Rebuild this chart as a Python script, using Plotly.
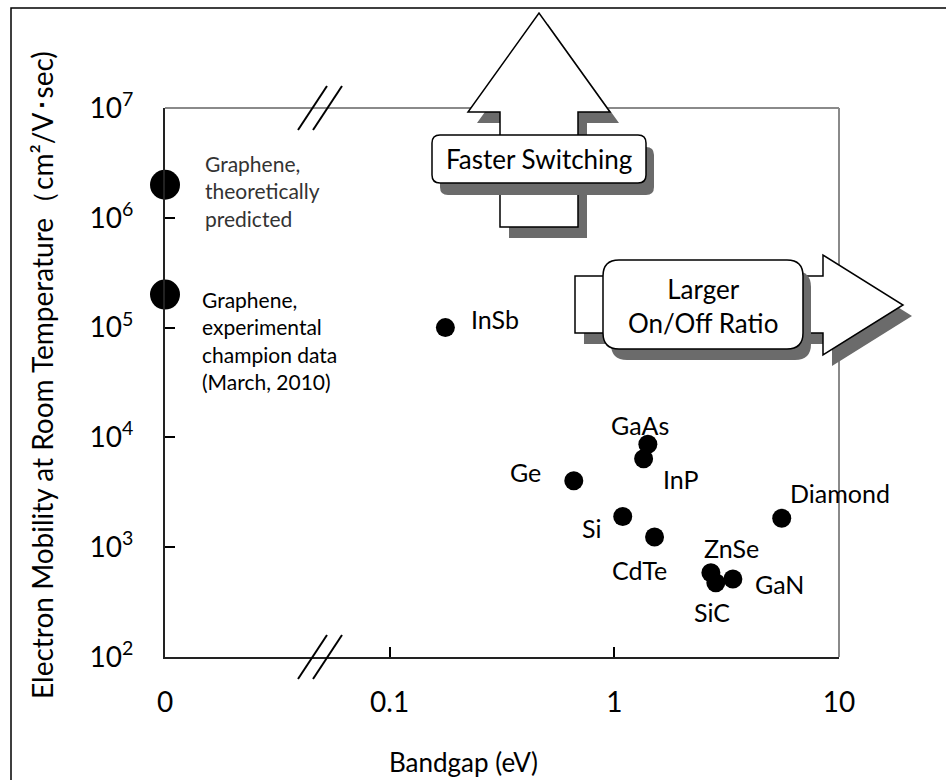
import math
import plotly.graph_objects as go

# ---------------- data ----------------
materials = ["InSb", "GaAs", "InP", "Ge", "Si", "CdTe", "ZnSe", "SiC", "GaN", "Diamond"]
bandgap_ev = [0.177, 1.41, 1.35, 0.66, 1.09, 1.51, 2.69, 2.83, 3.37, 5.56]
mobility = [1.0e5, 8650, 6400, 4030, 1900, 1240, 586, 475, 513, 1834]

graphene_labels = [
    "Graphene,<br>theoretically<br>predicted",
    "Graphene,<br>experimental<br>champion data<br>(March, 2010)",
]
graphene_bandgap = [0, 0]
graphene_mobility = [2.0e6, 2.0e5]

x_tick_values = [0, 0.1, 1, 10]
x_tick_text = ["0", "0.1", "1", "10"]
y_tick_values = [1e2, 1e3, 1e4, 1e5, 1e6, 1e7]
y_tick_text = ["10<sup>2</sup>", "10<sup>3</sup>", "10<sup>4</sup>",
               "10<sup>5</sup>", "10<sup>6</sup>", "10<sup>7</sup>"]

x_title = "Bandgap (eV)"
y_title = "Electron Mobility at Room Temperature（cm²/V･sec)"
up_arrow_text = "Faster Switching"
right_arrow_text = "Larger<br>On/Off Ratio"

# ---------------- layout geometry ----------------
W, H = 946, 780
L, R, T, B = 165, 839, 108, 657
ZERO_AT = 0.01  # where bandgap 0 sits on the broken log axis
FONT = "Lato, 'Open Sans', sans-serif"


def xpos(v):
    return ZERO_AT if v == 0 else v


def px(x):
    return (x - L) / (R - L)


def py(y):
    return (B - y) / (B - T)


def pt(x, y):
    return f"{px(x):.5f},{py(y):.5f}"


def poly(points, dx=0, dy=0):
    return "M " + " L ".join(pt(x + dx, y + dy) for x, y in points) + " Z"


def rrect(x0, y0, x1, y1, r, dx=0, dy=0):
    x0 += dx; x1 += dx; y0 += dy; y1 += dy
    return (f"M {pt(x0 + r, y0)} L {pt(x1 - r, y0)} Q {pt(x1, y0)} {pt(x1, y0 + r)} "
            f"L {pt(x1, y1 - r)} Q {pt(x1, y1)} {pt(x1 - r, y1)} "
            f"L {pt(x0 + r, y1)} Q {pt(x0, y1)} {pt(x0, y1 - r)} "
            f"L {pt(x0, y0 + r)} Q {pt(x0, y0)} {pt(x0 + r, y0)} Z")


fig = go.Figure()

fig.add_trace(go.Scatter(
    x=[xpos(v) for v in bandgap_ev], y=mobility, mode="markers",
    marker=dict(size=19, color="black", line=dict(width=0)),
    cliponaxis=False, hoverinfo="skip", showlegend=False))

fig.add_trace(go.Scatter(
    x=[xpos(v) for v in graphene_bandgap], y=graphene_mobility, mode="markers",
    marker=dict(size=30, color="black", line=dict(width=0)),
    cliponaxis=False, hoverinfo="skip", showlegend=False))

shapes = []
# outer frame
shapes.append(dict(type="rect", xref="paper", yref="paper",
                   x0=px(11), y0=py(8), x1=px(990), y1=py(820),
                   line=dict(color="black", width=1.5), fillcolor="rgba(0,0,0,0)", layer="above"))
# gray top / right border of plot
shapes.append(dict(type="line", xref="paper", yref="paper", x0=0, y0=1, x1=1, y1=1,
                   line=dict(color="#8a8a8a", width=2), layer="above"))
shapes.append(dict(type="line", xref="paper", yref="paper", x0=1, y0=0, x1=1, y1=1,
                   line=dict(color="#8a8a8a", width=2), layer="above"))
# axis break marks
for yc in (T, B):
    for xo in (0, 15):
        shapes.append(dict(type="line", xref="paper", yref="paper",
                           x0=px(298 + xo), y0=py(yc + 22), x1=px(327 + xo), y1=py(yc - 22),
                           line=dict(color="black", width=2), layer="above"))

SHADOW = "#6b6b6b"
# up arrow
up_pts = [(500, 227), (500, 112), (468, 112), (539, 13), (610, 112), (578, 112), (578, 227)]
shapes.append(dict(type="path", xref="paper", yref="paper", path=poly(up_pts, 9, 11),
                   fillcolor=SHADOW, line=dict(width=0), layer="above"))
shapes.append(dict(type="path", xref="paper", yref="paper", path=poly(up_pts),
                   fillcolor="white", line=dict(color="black", width=1.5), layer="above"))
# right arrow
rt_pts = [(575, 276), (823, 276), (823, 255), (903, 305), (823, 355), (823, 333), (575, 333)]
shapes.append(dict(type="path", xref="paper", yref="paper", path=poly(rt_pts, 9, 11),
                   fillcolor=SHADOW, line=dict(width=0), layer="above"))
shapes.append(dict(type="path", xref="paper", yref="paper", path=poly(rt_pts),
                   fillcolor="white", line=dict(color="black", width=1.5), layer="above"))
# boxes
shapes.append(dict(type="path", xref="paper", yref="paper", path=rrect(432, 135, 646, 183, 8, 8, 12),
                   fillcolor=SHADOW, line=dict(width=0), layer="above"))
shapes.append(dict(type="path", xref="paper", yref="paper", path=rrect(432, 135, 646, 183, 8),
                   fillcolor="white", line=dict(color="black", width=1.5), layer="above"))
shapes.append(dict(type="path", xref="paper", yref="paper", path=rrect(603, 260, 803, 349, 16, 8, 11),
                   fillcolor=SHADOW, line=dict(width=0), layer="above"))
shapes.append(dict(type="path", xref="paper", yref="paper", path=rrect(603, 260, 803, 349, 16),
                   fillcolor="white", line=dict(color="black", width=1.5), layer="above"))

annotations = []
# material labels (offsets in pixels from their point)
label_style = {
    "InSb": ("left", 24, 9),
    "GaAs": ("center", -8, 19),
    "InP": ("left", 17, -20),
    "Ge": ("right", -31, 9),
    "Si": ("right", -20, -11),
    "CdTe": ("center", -15, -33),
    "ZnSe": ("center", 21, 25),
    "SiC": ("center", -4, -29),
    "GaN": ("left", 20, -5),
    "Diamond": ("left", 6, 25),
}
for name, bg, mu in zip(materials, bandgap_ev, mobility):
    anc, dx, dy = label_style[name]
    annotations.append(dict(x=math.log10(xpos(bg)), y=math.log10(mu), xref="x", yref="y",
                            text=name, showarrow=False, xanchor=anc, yanchor="middle",
                            xshift=dx, yshift=dy, font=dict(size=25, color="black")))

graphene_style = [(38, -6, "#333333"), (35, -46, "black")]
for txt, bg, mu, (dx, dy, col) in zip(graphene_labels, graphene_bandgap, graphene_mobility, graphene_style):
    annotations.append(dict(x=math.log10(xpos(bg)), y=math.log10(mu), xref="x", yref="y",
                            text=txt, showarrow=False, xanchor="left", yanchor="middle",
                            align="left", xshift=dx, yshift=dy, font=dict(size=21, color=col)))

annotations.append(dict(x=px(539), y=py(159), xref="paper", yref="paper", text=up_arrow_text,
                        showarrow=False, xanchor="center", yanchor="middle",
                        font=dict(size=26, color="black")))
annotations.append(dict(x=px(703), y=py(306), xref="paper", yref="paper", text=right_arrow_text,
                        showarrow=False, xanchor="center", yanchor="middle",
                        font=dict(size=26, color="black")))
annotations.append(dict(x=px(463), y=py(762), xref="paper", yref="paper", text=x_title,
                        showarrow=False, xanchor="center", yanchor="middle",
                        font=dict(size=26, color="black")))
annotations.append(dict(x=px(42), y=py(375), xref="paper", yref="paper", text=y_title,
                        showarrow=False, xanchor="center", yanchor="middle", textangle=-90,
                        font=dict(size=28, color="black")))

fig.update_layout(
    width=W, height=H,
    margin=dict(l=L, r=W - R, t=T, b=H - B, autoexpand=False),
    paper_bgcolor="white", plot_bgcolor="white", showlegend=False,
    font=dict(family=FONT, color="black"),
    shapes=shapes, annotations=annotations,
)
fig.update_xaxes(type="log", range=[-2, 1],
                 tickvals=[xpos(v) for v in x_tick_values], ticktext=x_tick_text,
                 ticks="inside", ticklen=10, tickwidth=1.5, tickcolor="black",
                 showline=True, linecolor="#222222", linewidth=2,
                 showgrid=False, zeroline=False, tickfont=dict(size=28),
                 ticklabelstandoff=19)
fig.update_yaxes(type="log", range=[2, 7],
                 tickvals=y_tick_values, ticktext=y_tick_text,
                 ticks="inside", ticklen=10, tickwidth=1.5, tickcolor="black",
                 showline=True, linecolor="#222222", linewidth=2,
                 showgrid=False, zeroline=False, tickfont=dict(size=28),
                 ticklabelstandoff=24)

fig.write_html("out.html", config={"displayModeBar": False},
               post_script="document.body.style.margin='0px';")
